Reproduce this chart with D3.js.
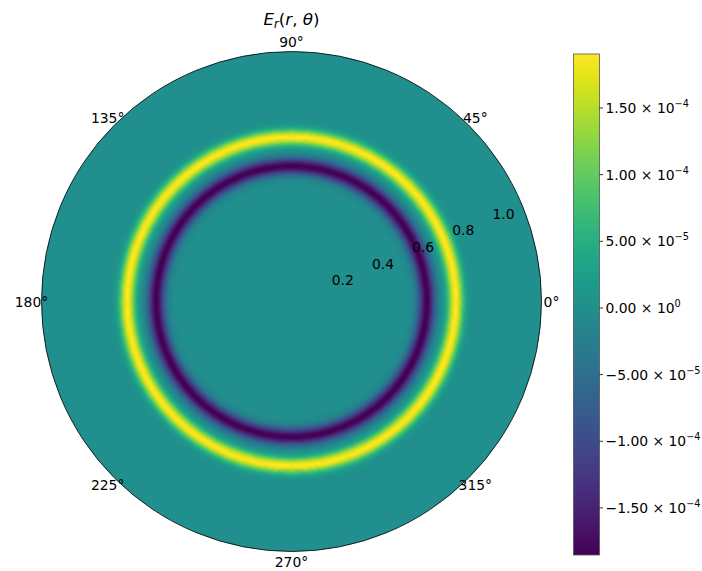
<!DOCTYPE html>
<html>
<head>
<meta charset="utf-8">
<script src="https://cdn.jsdelivr.net/npm/d3@7"></script>
<style>
  html, body { margin: 0; padding: 0; background: #fff; }
  svg { display: block; font-family: "DejaVu Sans", sans-serif; }
</style>
</head>
<body>
<svg id="chart" width="702" height="571"></svg>
<script>
// Radial profile of E_r (units of 1e-4), sampled at cell centres in r
const radii = [
  0.540, 0.545, 0.550, 0.555, 0.560, 0.565, 0.570, 0.575, 0.580, 0.585,
  0.590, 0.595, 0.600, 0.605, 0.610, 0.615, 0.620, 0.625, 0.630, 0.635,
  0.640, 0.645, 0.650, 0.655, 0.660, 0.665, 0.670, 0.675, 0.680, 0.685,
  0.690, 0.695, 0.700, 0.705, 0.710, 0.715, 0.720, 0.725, 0.730, 0.735,
  0.740, 0.745, 0.750, 0.755, 0.760, 0.765, 0.770, 0.775, 0.780, 0.785,
  0.790, 0.795, 0.800, 0.805, 0.810, 0.815, 0.820, 0.825, 0.830, 0.835,
  0.840, 0.845
];
const field = [
  -0.02, -0.04, -0.06, -0.10, -0.15, -0.22, -0.31, -0.43, -0.57, -0.74,
  -0.93, -1.12, -1.32, -1.51, -1.66, -1.78, -1.84, -1.85, -1.80, -1.69,
  -1.54, -1.36, -1.16, -0.96, -0.77, -0.60, -0.45, -0.32, -0.21, -0.11,
  -0.03, 0.05, 0.15, 0.25, 0.38, 0.54, 0.73, 0.93, 1.15, 1.37,
  1.58, 1.74, 1.86, 1.90, 1.88, 1.79, 1.65, 1.46, 1.24, 1.02,
  0.81, 0.62, 0.46, 0.32, 0.22, 0.15, 0.09, 0.06, 0.03, 0.02,
  0.01, 0.005
];
const backgroundValue = 0.0;      // field away from the two rings
const rMax = 1.15;                // outer radius of the polar grid
const valueMin = -1.853;          // colour limits, units of 1e-4
const valueMax = 1.905;

const rTicks = [0.2, 0.4, 0.6, 0.8, 1.0];
const thetaTicks = [0, 45, 90, 135, 180, 225, 270, 315];
const colorbarTicks = [-1.5e-4, -1.0e-4, -5e-5, 0, 5e-5, 1.0e-4, 1.5e-4];

const svg = d3.select("#chart");
const cx = 291.5, cy = 301.5, R = 250;
const rScale = d3.scaleLinear().domain([0, rMax]).range([0, R]);
const color = d3.scaleSequential(d3.interpolateViridis).domain([valueMin, valueMax]);

// ---- polar field ----
const g = svg.append("g").attr("transform", `translate(${cx},${cy})`);
const arc = d3.arc().startAngle(0).endAngle(2 * Math.PI);

g.append("path")
  .attr("d", arc({innerRadius: 0, outerRadius: R}))
  .attr("fill", color(backgroundValue));

const half = (radii[1] - radii[0]) / 2;
g.selectAll("path.cell")
  .data(radii.map((r, i) => ({r, v: field[i]})))
  .join("path")
  .attr("class", "cell")
  .attr("d", d => arc({
    innerRadius: rScale(d.r - half),
    outerRadius: rScale(d.r + half) + 0.6
  }))
  .attr("fill", d => color(d.v));

// outer spine
g.append("circle")
  .attr("r", R)
  .attr("fill", "none")
  .attr("stroke", "#000")
  .attr("stroke-width", 0.8);

// theta tick labels
g.selectAll("text.theta")
  .data(thetaTicks)
  .join("text")
  .attr("class", "theta")
  .attr("x", d => (R + 10) * Math.cos(d * Math.PI / 180))
  .attr("y", d => -(R + 10) * Math.sin(d * Math.PI / 180))
  .attr("text-anchor", "middle")
  .attr("dominant-baseline", "central")
  .attr("font-size", 13.9)
  .attr("fill", "#000")
  .text(d => d + "°");

// radial tick labels along 22.5°
const labelAngle = 22.5 * Math.PI / 180;
g.selectAll("text.rtick")
  .data(rTicks)
  .join("text")
  .attr("class", "rtick")
  .attr("x", d => (rScale(d) + 12) * Math.cos(labelAngle))
  .attr("y", d => -(rScale(d) + 12) * Math.sin(labelAngle))
  .attr("text-anchor", "middle")
  .attr("dominant-baseline", "central")
  .attr("font-size", 13.9)
  .attr("fill", "#000")
  .text(d => d.toFixed(1));

// ---- title ----
const title = svg.append("text")
  .attr("x", cx)
  .attr("y", 25)
  .attr("text-anchor", "middle")
  .attr("font-size", 16.7)
  .attr("fill", "#000");
title.append("tspan").attr("font-style", "italic").text("E");
title.append("tspan").attr("font-style", "italic").attr("font-size", 11.7).attr("dy", 3).text("r");
title.append("tspan").attr("dy", -3).text("(");
title.append("tspan").attr("font-style", "italic").text("r");
title.append("tspan").text(", ");
title.append("tspan").attr("font-style", "italic").text("θ");
title.append("tspan").text(")");

// ---- colorbar ----
const cbX = 573.5, cbW = 26, cbTop = 54, cbBottom = 555;
const cbScale = d3.scaleLinear().domain([valueMin * 1e-4, valueMax * 1e-4]).range([cbBottom, cbTop]);

const defs = svg.append("defs");
const grad = defs.append("linearGradient")
  .attr("id", "cbgrad")
  .attr("x1", 0).attr("y1", 1).attr("x2", 0).attr("y2", 0);
d3.range(0, 1.0001, 0.05).forEach(t => {
  grad.append("stop")
    .attr("offset", t)
    .attr("stop-color", d3.interpolateViridis(t));
});

svg.append("rect")
  .attr("x", cbX).attr("y", cbTop)
  .attr("width", cbW).attr("height", cbBottom - cbTop)
  .attr("fill", "url(#cbgrad)")
  .attr("stroke", "#555")
  .attr("stroke-width", 0.8);

const cbTicks = svg.append("g").selectAll("g")
  .data(colorbarTicks)
  .join("g")
  .attr("transform", d => `translate(${cbX + cbW},${cbScale(d)})`);

cbTicks.append("line")
  .attr("x1", 0).attr("x2", 3.5)
  .attr("stroke", "#000").attr("stroke-width", 0.8);

function sciParts(v) {
  if (v === 0) return {m: "0.00", e: "0"};
  const e = Math.floor(Math.log10(Math.abs(v)));
  const m = v / Math.pow(10, e);
  const ms = (m < 0 ? "\u2212" : "") + Math.abs(m).toFixed(2);
  const es = (e < 0 ? "\u2212" : "") + Math.abs(e);
  return {m: ms, e: es};
}

const cbText = cbTicks.append("text")
  .attr("x", 6)
  .attr("y", 5)
  .attr("font-size", 13.9)
  .attr("fill", "#000");
cbText.append("tspan").text(d => sciParts(d).m + " \u00d7 10");
cbText.append("tspan")
  .attr("font-size", 9.7)
  .attr("dy", -6)
  .text(d => sciParts(d).e);
</script>
</body>
</html>
